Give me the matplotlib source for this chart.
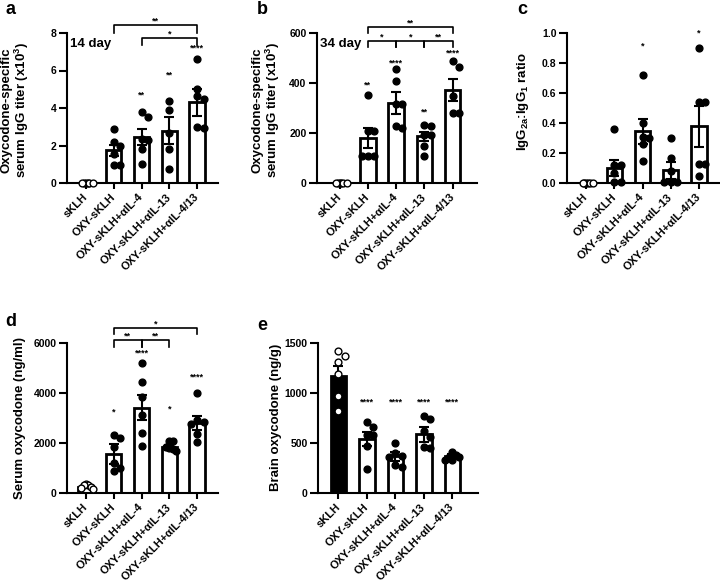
import matplotlib
matplotlib.use("Agg")
import matplotlib.pyplot as plt
import matplotlib.transforms as mtransforms
import numpy as np

plt.rcParams['font.family'] = ['Liberation Sans', 'DejaVu Sans']
plt.rcParams['font.weight'] = 'bold'
plt.rcParams['axes.labelweight'] = 'bold'
plt.rcParams['mathtext.default'] = 'regular'

groups = ['sKLH', 'OXY-sKLH', 'OXY-sKLH+αIL-4', 'OXY-sKLH+αIL-13', 'OXY-sKLH+αIL-4/13']

# panel a - IgG titer day 14 (x10^3)
a_mean = [0, 1.75, 2.45, 2.8, 4.3]
a_sem = [0, 0.3, 0.43, 0.7, 0.7]
a_pts = [[0, 0, 0, 0, 0, 0],
         [2.88, 2.17, 2.0, 1.56, 0.94, 0.94],
         [3.8, 3.5, 2.35, 2.3, 1.8, 1.0],
         [4.36, 3.91, 2.67, 1.83, 0.75],
         [6.61, 5.01, 4.62, 4.5, 3.0, 2.95]]
a_stars = ['', '', '**', '**', '****']
a_star_y = [0, 0, 4.7, 5.76, 7.18]

# panel b - IgG titer day 34 (x10^3)
b_mean = [0, 180, 320, 187, 372]
b_sem = [0, 40, 43, 17, 44]
b_pts = [[0, 0, 0, 0, 0, 0],
         [351, 209, 209, 109, 109, 109],
         [456, 407, 317, 317, 229, 220],
         [233, 229, 193, 193, 147, 107],
         [487, 464, 349, 280, 280]]
b_stars = ['', '**', '****', '**', '****']
b_star_y = [0, 392, 481, 285, 519]

# panel c - IgG2a:IgG1 ratio
c_mean = [0, 0.10, 0.345, 0.085, 0.378]
c_sem = [0, 0.055, 0.085, 0.055, 0.135]
c_pts = [[0, 0, 0, 0, 0, 0],
         [0.36, 0.12, 0.12, 0.07, 0.01, 0.01],
         [0.72, 0.40, 0.31, 0.30, 0.26, 0.15],
         [0.30, 0.17, 0.08, 0.01, 0.01, 0.01],
         [0.90, 0.54, 0.54, 0.13, 0.13, 0.05]]
c_stars = ['', '', '*', '', '*']
c_star_y = [0, 0, 0.91, 0, 1.0]

# panel d - serum oxycodone (ng/ml)
d_mean = [250, 1545, 3420, 1830, 2810]
d_sem = [30, 400, 510, 110, 270]
d_pts = [[360, 340, 320, 250, 200, 150],
         [2314, 2220, 1848, 1210, 984, 878],
         [5213, 4441, 3843, 3112, 2407, 1875],
         [2080, 2070, 1850, 1800, 1760, 1700],
         [4003, 2912, 2846, 2779, 2380, 2048]]
d_stars = ['', '*', '****', '*', '****']
d_star_y = [0, 3250, 5610, 3360, 4650]

# panel e - brain oxycodone (ng/g)
e_mean = [1170, 540, 369, 588, 369]
e_sem = [105, 70, 45, 75, 20]
e_pts = [[1420, 1367, 1310, 1187, 968, 818],
         [712, 662, 579, 579, 472, 236],
         [496, 396, 369, 363, 280, 263],
         [768, 745, 622, 560, 462, 446],
         [412, 380, 362, 362, 330, 330]]
e_stars = ['', '****', '****', '****', '****']
e_star_y = [0, 913, 913, 913, 913]

W, H = 720, 586
fig = plt.figure(figsize=(W / 100, H / 100), dpi=100)


def add_ax(left, top, right, bottom):
    return fig.add_axes([left / W, 1 - bottom / H, (right - left) / W, (bottom - top) / H])


def swarm(vals, px_per_unit, px_per_group, diam=6.7, limit=0.25):
    # simple beeswarm: place each point at the first free horizontal slot
    placed = []
    offs = []
    for v in vals:
        y = v * px_per_unit
        k = 0
        while True:
            cand = ((k + 1) // 2) * (1 if k % 2 else -1) * diam * 0.95 if k else 0.0
            if all(np.hypot(cand - px, y - py) >= diam * 0.95 for px, py in placed):
                break
            k += 1
        placed.append((cand, y))
        offs.append(cand / px_per_group)
    offs = np.array(offs)
    m = np.abs(offs).max()
    if m > limit:
        offs = offs * limit / m
    return offs


def panel(ax, means, sems, pts, stars, star_y, ymax, yticks, fmt, first_black=False):
    x = np.arange(len(groups))
    ax.set_xlim(-0.68, 4.75)
    ax.set_ylim(0, ymax)
    bbox = ax.get_window_extent()
    px_per_unit = bbox.height / ymax
    px_per_group = bbox.width / 5.43
    fills = ['black' if (first_black and i == 0) else 'white' for i in x]
    ax.bar(x, means, width=0.55, color=fills, edgecolor='black', linewidth=2, zorder=1)
    for i in x:
        if means[i] > 0:
            ax.errorbar(i, means[i], yerr=sems[i], fmt='none', ecolor='black',
                        elinewidth=1.5, capsize=3.5, capthick=1.5, zorder=2)
        offs = swarm(pts[i], px_per_unit, px_per_group)
        face = 'white' if i == 0 else 'black'
        ax.scatter(i + offs, pts[i], s=24, facecolor=face, edgecolor='black',
                   linewidth=1.0, zorder=3, clip_on=False)
        if stars[i]:
            ax.text(i, star_y[i], stars[i], ha='center', va='center', fontsize=6.5)
    for s in ['top', 'right']:
        ax.spines[s].set_visible(False)
    ax.spines['left'].set_linewidth(1.5)
    ax.spines['bottom'].set_linewidth(1.5)
    ax.set_yticks(yticks)
    ax.set_yticklabels([fmt.format(t) for t in yticks], fontsize=7.5)
    ax.set_xticks(x)
    ax.set_xticklabels(groups, rotation=45, ha='right', va='center',
                       rotation_mode='anchor', fontsize=8)
    ax.tick_params(axis='both', width=1.5)
    ax.tick_params(axis='y', length=5.5, pad=2)
    ax.tick_params(axis='x', length=4, pad=5)


def bracket(ax, i, j, y_line, y_leg, label):
    tr = mtransforms.blended_transform_factory(ax.transData, ax.transAxes)
    ax.plot([i, i, j, j], [y_leg, y_line, y_line, y_leg], color='black', lw=1.2,
            transform=tr, clip_on=False)
    ax.text((i + j) / 2, y_line + 0.025, label, ha='center', va='center',
            fontsize=6.5, transform=tr)


ax_a = add_ax(67, 33, 218, 183)
panel(ax_a, a_mean, a_sem, a_pts, a_stars, a_star_y, 8, [0, 2, 4, 6, 8], '{:g}')
bracket(ax_a, 1, 4, 1.053, 1.0, '**')
bracket(ax_a, 2, 4, 0.967, 0.92, '*')
ax_a.text(0.02, 0.93, '14 day', transform=ax_a.transAxes, fontsize=9.5, va='center')

ax_b = add_ax(317, 33, 477, 183)
panel(ax_b, b_mean, b_sem, b_pts, b_stars, b_star_y, 600, [0, 200, 400, 600], '{:g}')
ax_b.set_xlim(-0.8, 4.86)
bracket(ax_b, 1, 4, 1.042, 1.0, '**')
bracket(ax_b, 1, 2, 0.949, 0.909, '*')
bracket(ax_b, 2, 3, 0.949, 0.909, '*')
bracket(ax_b, 3, 4, 0.949, 0.909, '**')
ax_b.text(0.02, 0.93, '34 day', transform=ax_b.transAxes, fontsize=9.5, va='center')

ax_c = add_ax(567, 33, 720, 183)
panel(ax_c, c_mean, c_sem, c_pts, c_stars, c_star_y, 1.0,
      [0, 0.2, 0.4, 0.6, 0.8, 1.0], '{:.1f}')

ax_d = add_ax(67, 343, 218, 493)
panel(ax_d, d_mean, d_sem, d_pts, d_stars, d_star_y, 6000, [0, 2000, 4000, 6000], '{:g}')
bracket(ax_d, 1, 4, 1.102, 1.058, '*')
bracket(ax_d, 1, 2, 1.02, 0.975, '**')
bracket(ax_d, 2, 3, 1.02, 0.975, '**')

ax_e = add_ax(318, 343, 478, 493)
panel(ax_e, e_mean, e_sem, e_pts, e_stars, e_star_y, 1500, [0, 500, 1000, 1500], '{:g}',
      first_black=True)
ax_e.set_xlim(-0.72, 4.9)

# y labels
ylab_ab = 'Oxycodone-specific\nserum IgG titer (x10$^3$)'
fig.text(16 / W, 1 - 110 / H, ylab_ab, rotation=90, ha='center', va='center',
         fontsize=9.5, multialignment='center', linespacing=1.05)
fig.text(267 / W, 1 - 110 / H, ylab_ab, rotation=90, ha='center', va='center',
         fontsize=9.5, multialignment='center', linespacing=1.05)
fig.text(523 / W, 1 - 102 / H, 'IgG$_{2a}$:IgG$_1$ ratio',
         rotation=90, ha='center', va='center', fontsize=9.5)
fig.text(20 / W, 1 - 418 / H, 'Serum oxycodone (ng/ml)',
         rotation=90, ha='center', va='center', fontsize=9.5)
fig.text(276 / W, 1 - 417 / H, 'Brain oxycodone (ng/g)',
         rotation=90, ha='center', va='center', fontsize=9.5)

# panel letters
for lab, px, py in [('a', 11, 10), ('b', 262, 10), ('c', 522, 10), ('d', 11, 322), ('e', 262, 325)]:
    fig.text(px / W, 1 - py / H, lab, fontsize=13, ha='center', va='center')

fig.savefig('out.png', dpi=100)
